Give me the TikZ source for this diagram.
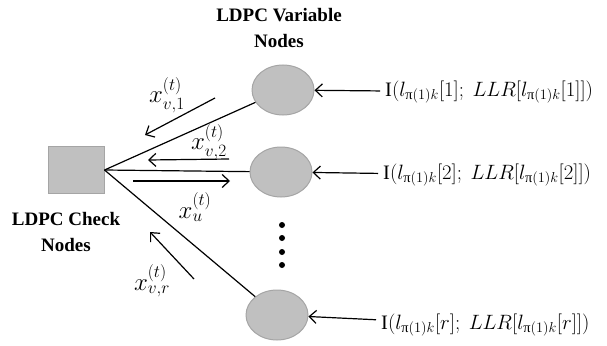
\documentclass[tikz,border=0pt]{standalone}
\usepackage{amsmath}
\usepackage{fontspec}
\setmainfont{Liberation Serif}[BoldFont={Liberation Serif Bold}]
\usepackage{tikz}
\usetikzlibrary{arrows.meta, positioning}
\usetikzlibrary{shapes.geometric}

\definecolor{nodefill}{RGB}{192,192,192}
\definecolor{nodeline}{RGB}{165,165,165}

\tikzset{
  cnode/.style={rectangle,draw=nodeline,fill=nodefill,line width=1pt,minimum width=56pt,minimum height=47pt,inner sep=0pt},
  vnode/.style={ellipse,draw=nodeline,fill=nodefill,line width=1pt,minimum width=62pt,minimum height=50pt,inner sep=0pt},
  dotnode/.style={circle,fill=black,minimum size=6pt,inner sep=0pt},
  msg/.style={line width=1.2pt,-{Straight Barb[length=7pt,width=13pt,line width=1.2pt]}},
  title/.style={align=center,font=\fontsize{19}{26}\selectfont\bfseries},
  lbl/.style={font=\fontsize{23}{26}\selectfont,inner sep=0pt},
  inlbl/.style={font=\fontsize{20.5}{23}\selectfont,anchor=west,inner sep=5pt}
}

\begin{document}
\begin{tikzpicture}[x=1pt,y=-1pt]
            \useasboundingbox (0,0) rectangle (607,345);
            % nodes
            \node[cnode](c) at (76,170) {};
            \node[vnode](v1) at (283,90) {};
            \node[vnode](v2) at (281,172) {};
            \node[vnode](vr) at (277,315) {};
            \node[title](ctitle) at (66,232) {LDPC Check\\Nodes};
            \node[title](vtitle) at (279,28) {LDPC Variable\\Nodes};
            \node[dotnode](d1) at (282,225) {};
            \node[dotnode](d2) at (282,238) {};
            \node[dotnode](d3) at (282,252) {};
            \node[dotnode](d4) at (282,265) {};
            % edges
            \draw[line width=1.2pt] (c.east) -- (v1);
            \draw[line width=1.2pt] (c.east) -- (v2);
            \draw[line width=1.2pt] (c.east) -- (vr);
            % messages
            \coordinate (m1a) at (215,98);
            \coordinate (m1b) at (145,135);
            \coordinate (m2a) at (229,159);
            \coordinate (m2b) at (148,160);
            \coordinate (mua) at (133,181);
            \coordinate (mub) at (230,181);
            \coordinate (mra) at (194,279);
            \coordinate (mrb) at (150,232);
            \draw[msg] (m1a) -- (m1b);
            \draw[msg] (m2a) -- (m2b);
            \draw[msg] (mua) -- (mub);
            \draw[msg] (mra) -- (mrb);
            \node[lbl](x1) at (167,95) {$x_{v,1}^{(t)}$};
            \node[lbl](x2) at (209,142) {$x_{v,2}^{(t)}$};
            \node[lbl](xu) at (195,207) {$x_{u}^{(t)}$};
            \node[lbl](xr) at (152,281) {$x_{v,r}^{(t)}$};
            % channel inputs
            \node[inlbl](in1) at (380,92) {$\mathrm{I}(l_{\text{π}(1)k}[1];\ LLR[l_{\text{π}(1)k}[1]])$};
            \node[inlbl](in2) at (378,175) {$\mathrm{I}(l_{\text{π}(1)k}[2];\ LLR[l_{\text{π}(1)k}[2]])$};
            \node[inlbl](inr) at (376,325) {$\mathrm{I}(l_{\text{π}(1)k}[r];\ LLR[l_{\text{π}(1)k}[r]])$};
            \draw[msg] (in1) -- (v1);
            \draw[msg] (in2) -- (v2);
            \draw[msg] (inr) -- (vr);
        \end{tikzpicture}
\end{document}
